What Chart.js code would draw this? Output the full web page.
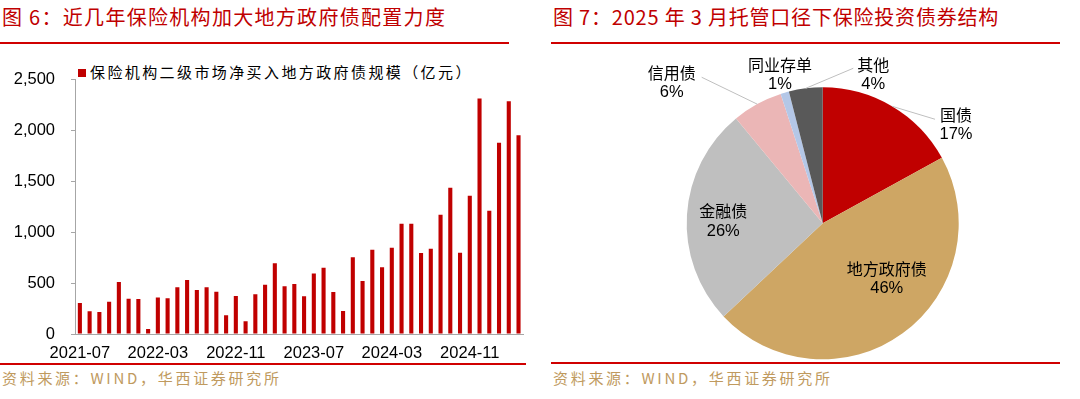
<!DOCTYPE html>
<html>
<head>
<meta charset="utf-8">
<script src="https://cdn.jsdelivr.net/npm/chart.js@4.4.1/dist/chart.umd.min.js"></script>
<style>
  body { margin:0; width:1080px; height:399px; background:#fff; position:relative; overflow:hidden; font-family:"Noto Sans CJK SC", sans-serif; }
  .title { position:absolute; top:4px; font-size:20px; line-height:26px; color:#C00000; letter-spacing:1.3px; white-space:nowrap; }
  .rule { position:absolute; height:2px; background:#D00000; }
  .source { position:absolute; top:368px; font-size:15px; line-height:20px; color:#C09A5E; letter-spacing:2.7px; white-space:nowrap; }
  .legend { position:absolute; left:78px; top:62px; font-size:15px; line-height:20px; color:#000; letter-spacing:2.4px; white-space:nowrap; }
  .legend i { display:inline-block; width:8px; height:8px; background:#C00000; margin-right:4px; vertical-align:1px; }
  canvas { position:absolute; }
</style>
</head>
<body>

<div class="title" style="left:2px;">图 6：近几年保险机构加大地方政府债配置力度</div>
<div class="title" style="left:553px; letter-spacing:0.8px;">图 7：2025 年 3 月托管口径下保险投资债券结构</div>
<div class="rule" style="left:0; width:509px; top:42px;"></div>
<div class="rule" style="left:551px; width:509px; top:42px;"></div>
<div class="rule" style="left:0; width:526px; top:363px;"></div>
<div class="rule" style="left:551px; width:509px; top:362px;"></div>
<div class="source" style="left:2px;">资料来源：WIND，华西证券研究所</div>
<div class="source" style="left:553px;">资料来源：WIND，华西证券研究所</div>
<div class="legend" id="legend"></div>

<canvas id="bar" width="540" height="362" style="left:0; top:0;"></canvas>
<canvas id="pie" width="509" height="316" style="left:551px; top:46px;"></canvas>

<script>
// left chart: monthly net purchase (亿元)
const months = [
    '2021-07','2021-08','2021-09','2021-10','2021-11','2021-12',
    '2022-01','2022-02','2022-03','2022-04','2022-05','2022-06',
    '2022-07','2022-08','2022-09','2022-10','2022-11','2022-12',
    '2023-01','2023-02','2023-03','2023-04','2023-05','2023-06',
    '2023-07','2023-08','2023-09','2023-10','2023-11','2023-12',
    '2024-01','2024-02','2024-03','2024-04','2024-05','2024-06',
    '2024-07','2024-08','2024-09','2024-10','2024-11','2024-12',
    '2025-01','2025-02','2025-03','2025-04'
];
const netBuy = [
    304, 222, 216, 317, 510, 346, 343, 49, 359, 350, 458, 529,
    431, 458, 415, 183, 373, 124, 389, 484, 693, 467, 490, 369,
    592, 650, 412, 225, 752, 520, 827, 654, 846, 1082, 1082, 794,
    837, 1170, 1435, 797, 1356, 2310, 1209, 1876, 2281, 1948
];
const barLabel = '保险机构二级市场净买入地方政府债规模（亿元）';

// right chart: bond structure, March 2025
const pieLabels = ['国债', '地方政府债', '金融债', '信用债', '同业存单', '其他'];
const pieValues = [17, 46, 26, 6, 1, 4];
const pieColors = ['#C00000', '#CEA664', '#BFBFBF', '#EBB6B6', '#B4C7E7', '#595959'];

document.getElementById('legend').innerHTML = '<i></i>' + barLabel;

const numFont = { family: 'Liberation Sans', size: 16.5 };
const axisGray = '#A6A6A6';

new Chart(document.getElementById('bar'), {
    type: 'bar',
    data: {
        labels: months,
        datasets: [{
            label: barLabel,
            data: netBuy,
            backgroundColor: '#C00000',
            barPercentage: 0.42,
            categoryPercentage: 1
        }]
    },
    options: {
        responsive: false,
        animation: false,
        layout: { padding: { top: 79, right: 16.6, left: 0, bottom: 0 } },
        plugins: { legend: { display: false }, tooltip: { enabled: false } },
        scales: {
            x: {
                offset: true,
                grid: { display: false },
                border: { display: true, color: axisGray, width: 1 },
                ticks: {
                    autoSkip: false, maxRotation: 0, padding: 2, color: '#000', font: numFont,
                    callback: (v, i) => i % 8 === 0 ? months[i] : ''
                },
                afterFit: s => { s.height = 28; }
            },
            y: {
                min: 0, max: 2500,
                ticks: { stepSize: 500, padding: 16, color: '#000', font: numFont },
                grid: { drawOnChartArea: false, drawTicks: true, tickLength: 4, color: axisGray },
                border: { display: true, color: axisGray, width: 1 },
                afterFit: s => { s.width = 75; }
            }
        }
    }
});

// label block centre and leader end, in units of the pie radius
const pieLabelPos = [
    { c: [0.980, -0.726], lead: [0.826, -0.765] },
    { c: [0.471, 0.408] },
    { c: [-0.731, -0.017] },
    { c: [-1.110, -1.035], lead: [-0.890, -1.074] },
    { c: [-0.314, -1.094] },
    { c: [0.372, -1.094], lead: [0.225, -1.140] }
];

const pieLabelPlugin = {
    id: 'pieLabels',
    afterDatasetsDraw(chart) {
        const ctx = chart.ctx;
        const arcs = chart.getDatasetMeta(0).data;
        ctx.save();
        arcs.forEach((arc, i) => {
            const p = arc.getProps(['x', 'y', 'startAngle', 'endAngle', 'outerRadius'], true);
            const r = p.outerRadius;
            const pos = pieLabelPos[i];
            const cx = p.x + pos.c[0] * r, cy = p.y + pos.c[1] * r;
            if (pos.lead) {
                const mid = (p.startAngle + p.endAngle) / 2;
                ctx.strokeStyle = '#BFBFBF';
                ctx.lineWidth = 1;
                ctx.beginPath();
                ctx.moveTo(p.x + Math.cos(mid) * r, p.y + Math.sin(mid) * r);
                ctx.lineTo(p.x + pos.lead[0] * r, p.y + pos.lead[1] * r);
                ctx.stroke();
            }
            ctx.fillStyle = '#000';
            ctx.textAlign = 'center';
            ctx.textBaseline = 'middle';
            ctx.font = '16px "Noto Sans CJK SC"';
            ctx.fillText(pieLabels[i], cx, cy - 10);
            ctx.font = '16.5px "Liberation Sans"';
            ctx.fillText(pieValues[i] + '%', cx, cy + 10);
        });
        ctx.restore();
    }
};

new Chart(document.getElementById('pie'), {
    type: 'pie',
    data: {
        labels: pieLabels,
        datasets: [{ data: pieValues, backgroundColor: pieColors, borderWidth: 0 }]
    },
    options: {
        responsive: false,
        animation: false,
        layout: { padding: { left: 135.7, right: 101.3, top: 41.3, bottom: 2.7 } },
        plugins: { legend: { display: false }, tooltip: { enabled: false } }
    },
    plugins: [pieLabelPlugin]
});
</script>
</body>
</html>
